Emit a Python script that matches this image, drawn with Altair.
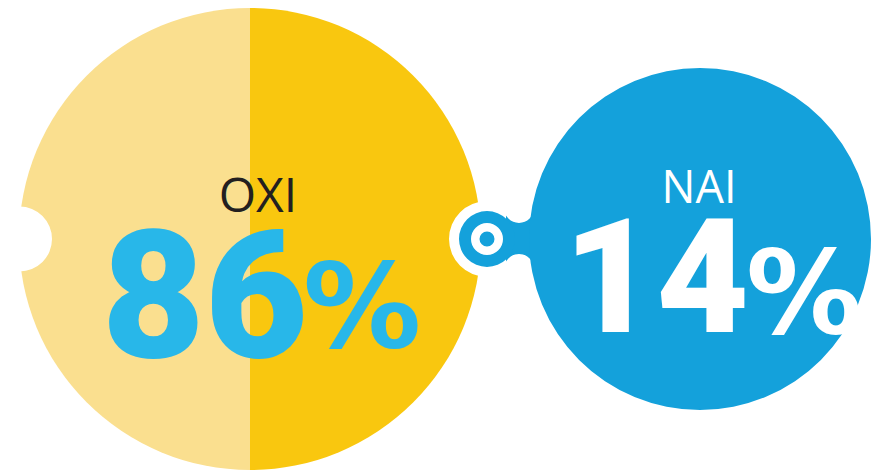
import altair as alt
import pandas as pd

# ---- data ----
categories = ["OXI", "NAI"]
shares = [86, 14]
label_df = pd.DataFrame({"cat": categories, "pct": shares})

# ---- styles / layout (chart pixel coords) ----
LIGHT_Y = "#FADF8F"
DARK_Y = "#F9C70F"
BLUE = "#14A1DB"
TEXT_BLUE = "#28B7E9"
DARK_TXT = "#231F20"
TAU = 6.283185

one = alt.Data(values=[{"k": 1}])


def disc(cx, cy, r, color, t0=0.0, t1=TAU):
    return alt.Chart(one).mark_arc(
        theta=t0, theta2=t1, color=color, stroke=None
    ).encode(x=alt.value(cx), y=alt.value(cy), radius=alt.value(r))


big_cx, big_cy, big_r = 242, 231, 231
blue_cx, blue_cy, blue_r = 692, 231, 171
ring_cx, ring_cy = 479, 231

layers = [
    disc(big_cx, big_cy, big_r, DARK_Y, 0.0, TAU / 2),
    disc(big_cx, big_cy, big_r, LIGHT_Y, TAU / 2, TAU),
    disc(11.5, 231, 32.5, "white"),
    disc(ring_cx, ring_cy, 38, "white"),
    alt.Chart(one).mark_rect(color=BLUE).encode(
        x=alt.value(498), x2=alt.value(526), y=alt.value(200), y2=alt.value(261)
    ),
    disc(511, 200, 15, "white"),
    disc(511, 261, 15, "white"),
    disc(blue_cx, blue_cy, blue_r, BLUE),
    disc(ring_cx, ring_cy, 28, BLUE),
    disc(ring_cx, ring_cy, 16, "white"),
    disc(ring_cx, ring_cy, 7.5, BLUE),
]

base = alt.Chart(label_df)
oxi = base.transform_filter(alt.datum.cat == "OXI")
nai = base.transform_filter(alt.datum.cat == "NAI")

layers += [
    oxi.mark_text(font="Open Sans", fontSize=48, color=DARK_TXT, align="center",
                  baseline="alphabetic").encode(
        x=alt.value(250), y=alt.value(204), text="cat:N"),
    oxi.mark_text(font="Roboto", fontWeight=900, fontSize=178, color=TEXT_BLUE,
                  align="right", baseline="alphabetic").encode(
        x=alt.value(300), y=alt.value(349), text=alt.Text("pct:Q", format="d")),
    oxi.mark_text(font="DejaVu Sans", fontWeight="bold", fontSize=118, color=TEXT_BLUE,
                  align="left", baseline="alphabetic", text="%").encode(
        x=alt.value(295), y=alt.value(339)),
    nai.mark_text(font="Open Sans", fontSize=45, color="white", align="center",
                  baseline="alphabetic").encode(
        x=alt.value(691), y=alt.value(195), text="cat:N"),
    nai.mark_text(font="Roboto", fontWeight=900, fontSize=160, color="white",
                  align="right", baseline="alphabetic").encode(
        x=alt.value(741), y=alt.value(324), text=alt.Text("pct:Q", format="d")),
    nai.mark_text(font="DejaVu Sans", fontWeight="bold", fontSize=116, color="white",
                  align="left", baseline="alphabetic", text="%").encode(
        x=alt.value(738), y=alt.value(325)),
]

chart = alt.layer(*layers).properties(
    width=878, height=462, padding=0,
    autosize=alt.AutoSizeParams(type="none"),
).configure_view(strokeWidth=0)

chart.save("out.html", embed_options={"renderer": "svg", "actions": False})
